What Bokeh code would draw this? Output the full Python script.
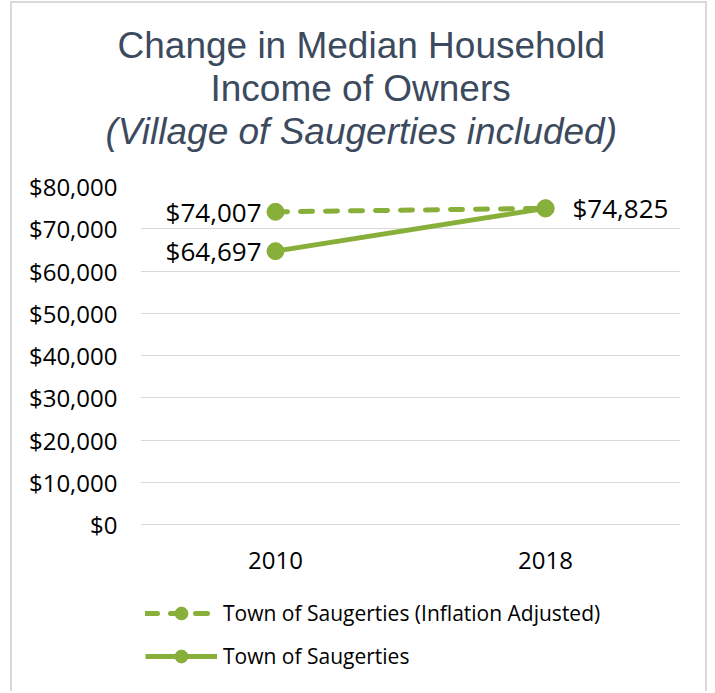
from bokeh.plotting import figure
from bokeh.models import (ColumnDataSource, NumeralTickFormatter, FixedTicker, Title,
                          Legend, LegendItem, Range1d, FactorRange)
from bokeh.core.properties import value
from bokeh.embed import file_html
from bokeh.resources import INLINE

# ---- data ----
years = ["2010", "2018"]
inflation_adjusted = [74007, 74825]
town = [64697, 74825]
y_ticks = [0, 10000, 20000, 30000, 40000, 50000, 60000, 70000, 80000]
title_line1 = "Change in Median Household"
title_line2 = "Income of Owners"
title_line3 = "(Village of Saugerties included)"
series_names = ["Town of Saugerties (Inflation Adjusted)", "Town of Saugerties"]

GREEN = "#88AF3A"
TITLE_C = "#3C4A5E"
FONT = "Open Sans"
TFONT = "Liberation Sans"

# plot area: $80,000 line at 186px, $0 line at 524px, frame runs down to 690px
Y_TOP = 80000
Y_BOTTOM = -Y_TOP * (690 - 524) / (524 - 186)


def money(v):
    return "${:,}".format(v)


p = figure(width=697, height=690,
           x_range=FactorRange(factors=years),
           y_range=Range1d(Y_BOTTOM, Y_TOP),
           output_backend="svg", toolbar_location=None,
           min_border_left=128, min_border_right=29,
           min_border_top=183, min_border_bottom=3,
           outline_line_color=None, title=None)
p.styles = {"margin-left": "10px", "margin-top": "1px",
            "border-left": "2px solid #D9D9D9",
            "border-right": "2px solid #D9D9D9",
            "border-top": "2px solid #D9D9D9"}

# titles (added from the plot outward); first one is a small spacer
spacer = Title(text=" ", text_font_size="1px", standoff=32)
p.add_layout(spacer, "above")
t3 = Title(text=title_line3, align="left", offset=-35, text_font=TFONT,
           text_font_size="37px", text_font_style="italic",
           text_color=TITLE_C, standoff=0)
p.add_layout(t3, "above")
t2 = Title(text=title_line2, align="left", offset=70, text_font=TFONT,
           text_font_size="37px", text_font_style="normal",
           text_color=TITLE_C, standoff=0)
p.add_layout(t2, "above")
t1 = Title(text=title_line1, align="left", offset=-23, text_font=TFONT,
           text_font_size="37px", text_font_style="normal",
           text_color=TITLE_C, standoff=0)
p.add_layout(t1, "above")

# axes
p.yaxis.ticker = FixedTicker(ticks=y_ticks)
p.yaxis.formatter = NumeralTickFormatter(format="$0,0")
p.xaxis.fixed_location = 0
for ax in (p.xaxis, p.yaxis):
    ax.axis_line_color = None
    ax.major_tick_line_color = None
    ax.minor_tick_line_color = None
    ax.major_tick_in = 0
    ax.major_tick_out = 0
    ax.major_label_text_font = FONT
    ax.major_label_text_font_size = "24px"
    ax.major_label_text_color = "#000000"
p.yaxis.major_label_standoff = 23
p.xaxis.major_label_standoff = 27

p.ygrid.ticker = FixedTicker(ticks=y_ticks)
p.ygrid.grid_line_color = "#D9D9D9"
p.ygrid.grid_line_width = 1
p.xgrid.grid_line_color = None

# series
r1 = p.line(years, inflation_adjusted, line_color=GREEN, line_width=5,
            line_dash="12 13", line_cap="round")
s1 = p.scatter(years, inflation_adjusted, size=17, color=GREEN)
r2 = p.line(years, town, line_color=GREEN, line_width=5)
s2 = p.scatter(years, town, size=17, color=GREEN)

# data labels
left_src = ColumnDataSource(dict(x=[years[0], years[0]],
                                 y=[inflation_adjusted[0], town[0]],
                                 t=[money(inflation_adjusted[0]), money(town[0])]))
right_src = ColumnDataSource(dict(x=[years[1]], y=[town[1]], t=[money(town[1])]))
p.text(x="x", y="y", text="t", source=left_src, x_offset=-14,
       text_align="right", text_baseline="middle", text_font=value(FONT),
       text_font_size="26px", text_color="#000000")
p.text(x="x", y="y", text="t", source=right_src, x_offset=27,
       text_align="left", text_baseline="middle", text_font=value(FONT),
       text_font_size="26px", text_color="#000000")

legend = Legend(items=[LegendItem(label=series_names[0], renderers=[r1, s1]),
                       LegendItem(label=series_names[1], renderers=[r2, s2])],
                location=(5, 18), orientation="vertical",
                glyph_width=72, glyph_height=32, spacing=11,
                label_text_font=FONT, label_text_font_size="21px",
                label_text_color="#000000", label_standoff=6,
                padding=0, margin=0, border_line_color=None,
                background_fill_alpha=0)
p.add_layout(legend, "center")

open("out.html", "w").write(file_html(p, INLINE))
